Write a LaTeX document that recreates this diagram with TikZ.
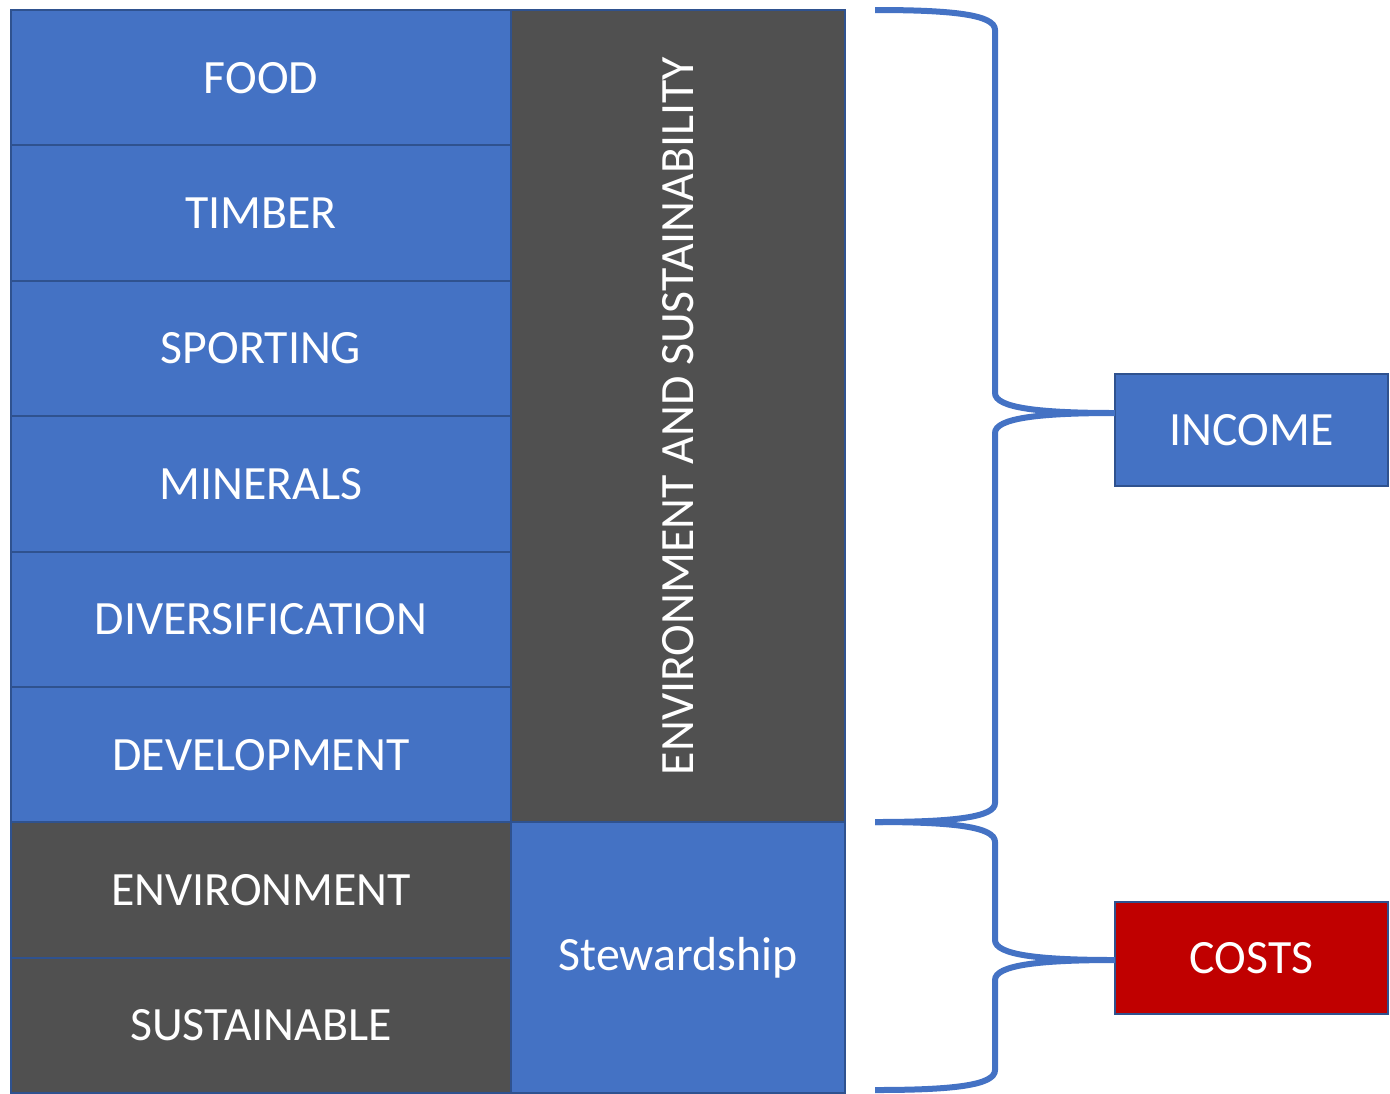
\documentclass[tikz,border=0pt]{standalone}
\usepackage{fontspec}
\setmainfont{Carlito}
\usepackage{tikz}
\usetikzlibrary{positioning}
\definecolor{boxblue}{HTML}{4472C4}
\definecolor{boxline}{HTML}{2F528F}
\definecolor{boxgrey}{HTML}{505050}
\definecolor{boxred}{HTML}{C00000}
\tikzset{
	cell/.style n args={1}{
		draw=boxline, % Border colour
		line width=1pt, % Border width
		rectangle, % Shape of the node
		minimum width=250pt, % Width of the left column
		minimum height=67.7pt, % Height of one row
		outer sep=0pt,
		align=center, % Text alignment within the node
		text=white,
		font=\fontsize{23.9}{28}\selectfont,
		% Apply fill color based on parameter
		fill=#1
	},
	brace/.style={
		draw=boxblue,
		line width=3pt
	}
}
\begin{document}
\begin{tikzpicture}[x=0.5pt, y=-0.5pt, node distance=0pt]
	\useasboundingbox (0,0) rectangle (1390,1093);
	
	\node[cell=boxblue] (food) at (261,77.7) {FOOD};
	\node[cell=boxblue, below=of food] (timber) {TIMBER};
	\node[cell=boxblue, below=of timber] (sporting) {SPORTING};
	\node[cell=boxblue, below=of sporting] (minerals) {MINERALS};
	\node[cell=boxblue, below=of minerals] (divers) {DIVERSIFICATION};
	\node[cell=boxblue, below=of divers] (devel) {DEVELOPMENT};
	\node[cell=boxgrey, below=of devel] (environ) {ENVIRONMENT};
	\node[cell=boxgrey, below=of environ] (sustain) {SUSTAINABLE};
	
	\node[cell=boxgrey, anchor=north west, minimum width=167pt, minimum height=406pt] (envsus) at (food.north east) {\rotatebox{90}{ENVIRONMENT AND SUSTAINABILITY}};
	\node[cell=boxblue, anchor=north west, minimum width=167pt, minimum height=135.5pt] (steward) at (envsus.south west) {Stewardship};
	
	\node[cell=boxblue, minimum width=136.5pt, minimum height=56pt] (income) at (1251.5,430) {INCOME};
	\node[cell=boxred, minimum width=136.5pt, minimum height=56pt] (costs) at (1251.5,958) {COSTS};
	
	% brace ends
	\coordinate (itop) at (875,10);
	\coordinate (itip) at (income.west |- 0,413);
	\coordinate (ibot) at (875,822);
	\coordinate (ctip) at (costs.west |- 0,960);
	\coordinate (cbot) at (875,1090);
	
	\draw[brace] (itop) .. controls (955,10) and (995,15) .. (995,30) -- (995,393)
		.. controls (995,408) and (1040,413) .. (itip)
		.. controls (1040,413) and (995,418) .. (995,433) -- (995,803)
		.. controls (995,817) and (955,822) .. (ibot);
	\draw[brace] (ibot) .. controls (955,822) and (995,827) .. (995,842) -- (995,940)
		.. controls (995,955) and (1040,960) .. (ctip)
		.. controls (1040,960) and (995,965) .. (995,980) -- (995,1070)
		.. controls (995,1085) and (955,1090) .. (cbot);
	
\end{tikzpicture}
\end{document}
